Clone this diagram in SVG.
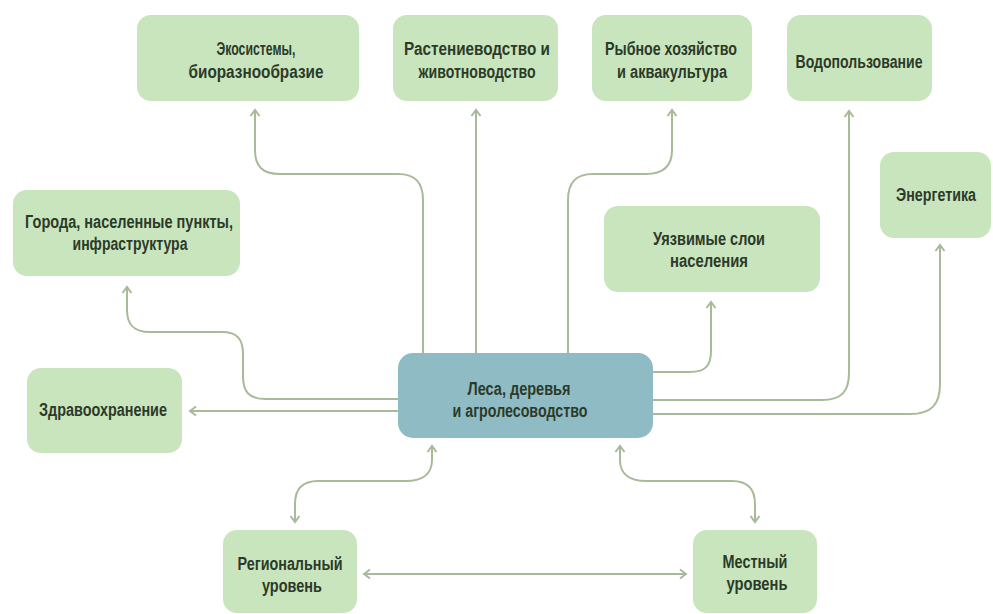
<svg xmlns="http://www.w3.org/2000/svg" width="993" height="614" viewBox="0 0 993 614">
<style>
.box{fill:#c9e5bd;}
.main{fill:#8fbcc4;}
text{font-family:"Liberation Sans",Arial,sans-serif;font-weight:bold;font-size:18px;fill:#2c3a29;text-anchor:middle;}
.c{fill:none;stroke:#a7ba99;stroke-width:2;}
</style>
<defs>
<marker id="ah" viewBox="-8 -6 10 12" markerWidth="10" markerHeight="12" refX="0" refY="0" orient="auto-start-reverse" markerUnits="userSpaceOnUse">
<path d="M-6,-4.5 L0,0 L-6,4.5" fill="none" stroke="#a7ba99" stroke-width="2"/>
</marker>
</defs>
<rect width="993" height="614" fill="#ffffff"/>
<g id="connectors">
<path class="c" d="M423,353 V200 C423,182 415,174 398,174 H280 C262,174 255,166 255,150 V110" marker-end="url(#ah)"/>
<path class="c" d="M476,353 V110" marker-end="url(#ah)"/>
<path class="c" d="M568,353 V200 C568,182 576,174 593,174 H646 C664,174 672,166 672,150 V110" marker-end="url(#ah)"/>
<path class="c" d="M653,400 H822 C841,400 849,392 849,373 V111" marker-end="url(#ah)"/>
<path class="c" d="M653,414 H910 C931,414 940,405 940,384 V245" marker-end="url(#ah)"/>
<path class="c" d="M653,372 H690 C705,372 711,366 711,351 V302" marker-end="url(#ah)"/>
<path class="c" d="M398,411 H190" marker-end="url(#ah)"/>
<path class="c" d="M398,399 H266 C249,399 243,392 243,376 V354 C243,339 237,332 222,332 H150 C134,332 127,325 127,310 V287" marker-end="url(#ah)"/>
<path class="c" d="M432,446 V460 C432,475 421,481 406,481 H318 C302,481 295,489 295,504 V522" marker-start="url(#ah)" marker-end="url(#ah)"/>
<path class="c" d="M620,446 V460 C620,475 631,481 646,481 H732 C748,481 755,489 755,504 V522" marker-start="url(#ah)" marker-end="url(#ah)"/>
<path class="c" d="M364,574 H686" marker-start="url(#ah)" marker-end="url(#ah)"/>
</g>
<g id="n-eco">
<rect class="box" x="137" y="15" width="222" height="86" rx="14"/>
<text x="256" y="55" textLength="79" lengthAdjust="spacingAndGlyphs">Экосистемы,</text>
<text x="256" y="78" textLength="135" lengthAdjust="spacingAndGlyphs">биоразнообразие</text>
</g>
<g id="n-crop">
<rect class="box" x="393" y="15" width="165" height="86" rx="14"/>
<text x="477" y="55" textLength="146" lengthAdjust="spacingAndGlyphs">Растениеводство и</text>
<text x="477" y="78" textLength="117" lengthAdjust="spacingAndGlyphs">животноводство</text>
</g>
<g id="n-fish">
<rect class="box" x="592" y="15" width="160" height="86" rx="14"/>
<text x="671" y="55" textLength="132" lengthAdjust="spacingAndGlyphs">Рыбное хозяйство</text>
<text x="672" y="78" textLength="110" lengthAdjust="spacingAndGlyphs">и аквакультура</text>
</g>
<g id="n-water">
<rect class="box" x="787" y="15" width="145" height="86" rx="14"/>
<text x="859" y="68" textLength="127" lengthAdjust="spacingAndGlyphs">Водопользование</text>
</g>
<g id="n-energy">
<rect class="box" x="880" y="152" width="111" height="86" rx="14"/>
<text x="936" y="201" textLength="80" lengthAdjust="spacingAndGlyphs">Энергетика</text>
</g>
<g id="n-vuln">
<rect class="box" x="604" y="206" width="216" height="86" rx="14"/>
<text x="709" y="245" textLength="112" lengthAdjust="spacingAndGlyphs">Уязвимые слои</text>
<text x="709" y="267" textLength="78" lengthAdjust="spacingAndGlyphs">населения</text>
</g>
<g id="n-cities">
<rect class="box" x="13" y="190" width="227" height="86" rx="14"/>
<text x="129" y="228" textLength="208" lengthAdjust="spacingAndGlyphs">Города, населенные пункты,</text>
<text x="130" y="250" textLength="115" lengthAdjust="spacingAndGlyphs">инфраструктура</text>
</g>
<g id="n-health">
<rect class="box" x="27" y="368" width="155" height="85" rx="14"/>
<text x="103" y="416" textLength="128" lengthAdjust="spacingAndGlyphs">Здравоохранение</text>
</g>
<g id="n-forest">
<rect class="main" x="398" y="353" width="255" height="85" rx="15"/>
<text x="519" y="395" textLength="103" lengthAdjust="spacingAndGlyphs">Леса, деревья</text>
<text x="520" y="417" textLength="135" lengthAdjust="spacingAndGlyphs">и агролесоводство</text>
</g>
<g id="n-regional">
<rect class="box" x="223" y="530" width="134" height="83" rx="14"/>
<text x="290" y="570" textLength="105" lengthAdjust="spacingAndGlyphs">Региональный</text>
<text x="292" y="592" textLength="60" lengthAdjust="spacingAndGlyphs">уровень</text>
</g>
<g id="n-local">
<rect class="box" x="693" y="530" width="124" height="83" rx="14"/>
<text x="755" y="568" textLength="65" lengthAdjust="spacingAndGlyphs">Местный</text>
<text x="757" y="590" textLength="61" lengthAdjust="spacingAndGlyphs">уровень</text>
</g>
</svg>
